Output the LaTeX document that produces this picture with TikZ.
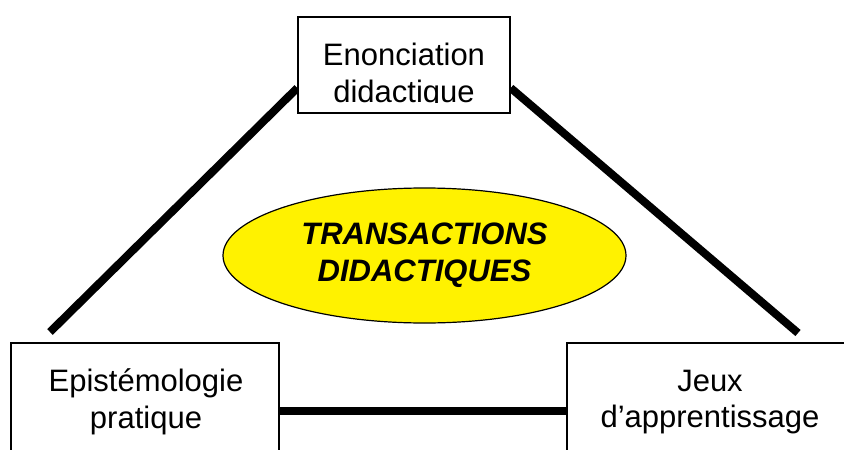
\documentclass[tikz,border=0pt]{standalone}
\usepackage{fontspec}
\setmainfont{Liberation Sans}
\usetikzlibrary{shapes.geometric}
\pgfdeclarelayer{bg}
\pgfsetlayers{bg,main}
\begin{document}
\begin{tikzpicture}[x=1pt,y=-1pt,
  box/.style={draw, line width=1.5pt, inner sep=0pt, fill=white},
  lbl/.style={font=\fontsize{31}{36.5}\selectfont, align=center, inner sep=0pt},
  link/.style={line width=8pt},
]
\useasboundingbox (0,0) rectangle (844,450);
\clip (0,0) rectangle (844,450);
% boxes
\node[box, minimum width=212pt, minimum height=96pt] (top) at (404,65) {};
\begin{scope}
  \clip (298,17) rectangle (510,102);
  \node[lbl] (toptext) at (404,76) {Enonciation\\didactique};
\end{scope}
\node[box, minimum width=268pt, minimum height=136pt] (epi) at (145,411) {};
\node[lbl] (epitext) at (146,402) {Epistémologie\\pratique};
\node[box, minimum width=286pt, minimum height=136pt] (jeux) at (710,411) {};
\node[lbl] (jeuxtext) at (710,402) {Jeux\\d’apprentissage};
% ellipse
\node[ellipse, draw, line width=1.2pt, fill=yellow, minimum width=403pt, minimum height=135pt, inner sep=0pt,
      font=\fontsize{31}{37}\selectfont\bfseries\itshape, align=center] (trans) at (424.5,255.5) {TRANSACTIONS\\DIDACTIQUES};
% connectors
\coordinate (ll) at (50,332);
\coordinate (rl) at (798,333);
\begin{pgfonlayer}{bg}
\draw[link] ([yshift=-23pt]top.west) -- (ll);
\draw[link] ([yshift=-23pt]top.east) -- (rl);
\draw[link] (epi.east) -- (jeux.west);
\end{pgfonlayer}
\end{tikzpicture}
\end{document}
